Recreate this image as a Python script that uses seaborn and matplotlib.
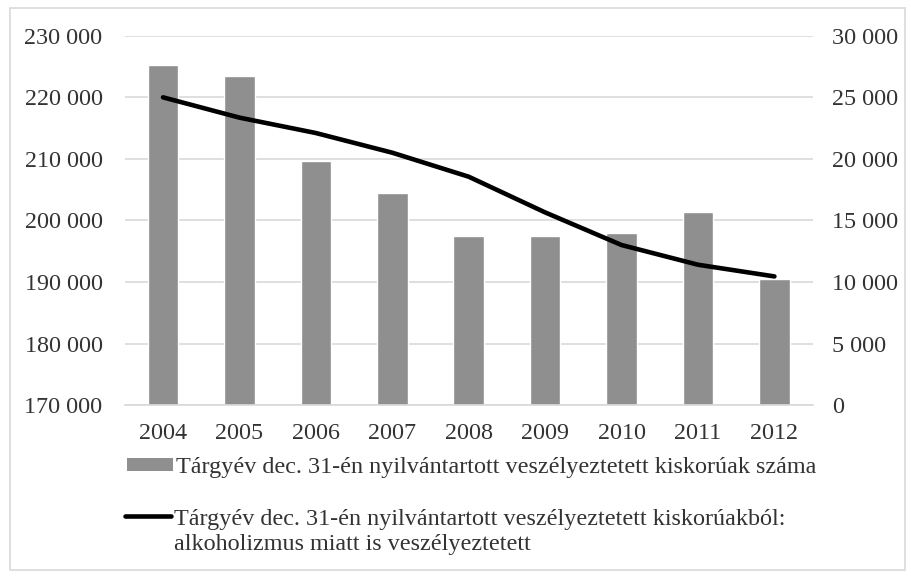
import matplotlib
matplotlib.use("Agg")
import matplotlib.pyplot as plt
import seaborn as sns
import numpy as np
import pandas as pd
from matplotlib.patches import Patch, Rectangle
from matplotlib.lines import Line2D
from matplotlib.ticker import FuncFormatter, MultipleLocator

years = ["2004", "2005", "2006", "2007", "2008", "2009", "2010", "2011", "2012"]
endangered = [225300, 223500, 209700, 204400, 197500, 197400, 197900, 201300, 190500]
alcohol = [25000, 23350, 22100, 20500, 18550, 15650, 13000, 11400, 10450]

label_bars = "Tárgyév dec. 31-én nyilvántartott veszélyeztetett kiskorúak száma"
label_line = ["Tárgyév dec. 31-én nyilvántartott veszélyeztetett kiskorúakból:",
              "alkoholizmus miatt is veszélyeztetett"]

FS = 17.4
sns.set_theme(style="white")
plt.rcParams["font.family"] = ["Liberation Serif", "DejaVu Serif"]

df = pd.DataFrame({"year": years, "endangered": endangered, "alcohol": alcohol})

fig = plt.figure(figsize=(9.11, 5.77), dpi=100)
ax = fig.add_axes([0.137, 0.298, 0.755, 0.64])

sns.barplot(data=df, x="year", y="endangered", color="#8f8f8f", saturation=1,
            width=0.4, ax=ax, zorder=2)
ax.set_ylim(170000, 230000)
ax.yaxis.set_major_locator(MultipleLocator(10000))
fmt = FuncFormatter(lambda v, p: f"{int(v):,}".replace(",", " "))
ax.yaxis.set_major_formatter(fmt)
ax.grid(axis="y", color="#d9d9d9", linewidth=1.2, zorder=0)
ax.set_axisbelow(True)
ax.set_xlabel("")
ax.set_ylabel("")

ax2 = ax.twinx()
sns.lineplot(x=np.arange(len(years)), y=df["alcohol"], color="black", linewidth=3.3, ax=ax2)
ax2.set_ylim(0, 30000)
ax2.yaxis.set_major_locator(MultipleLocator(5000))
ax2.yaxis.set_major_formatter(fmt)
ax2.set_ylabel("")
ax.set_xlim(-0.5, len(years) - 0.5)

for a in (ax, ax2):
    for s in a.spines.values():
        s.set_visible(False)
    a.tick_params(length=0, labelsize=FS, colors="#333333")
ax.spines["bottom"].set_visible(True)
ax.spines["bottom"].set_color("#d9d9d9")
ax.tick_params(axis="y", pad=16)
ax2.tick_params(axis="y", pad=14)
ax.tick_params(axis="x", pad=13)

leg_kw = dict(loc="upper left", frameon=False, fontsize=FS, handlelength=1.9,
              handletextpad=0.15, labelcolor="#333333", borderpad=0, borderaxespad=0)
fig.legend([Patch(facecolor="#8f8f8f", edgecolor="none")], [label_bars],
           bbox_to_anchor=(0.139, 1 - 457 / 577), handleheight=0.45, **leg_kw)
fig.legend([Line2D([0], [0], color="black", linewidth=3.3), Patch(visible=False)],
           label_line, bbox_to_anchor=(0.137, 1 - 508 / 577), labelspacing=0.12,
           **leg_kw)

fig.patches.append(Rectangle((0.011, 0.012), 0.982, 0.975, transform=fig.transFigure,
                             fill=False, edgecolor="#d9d9d9", linewidth=1.2))

fig.savefig("out.png", dpi=100)
